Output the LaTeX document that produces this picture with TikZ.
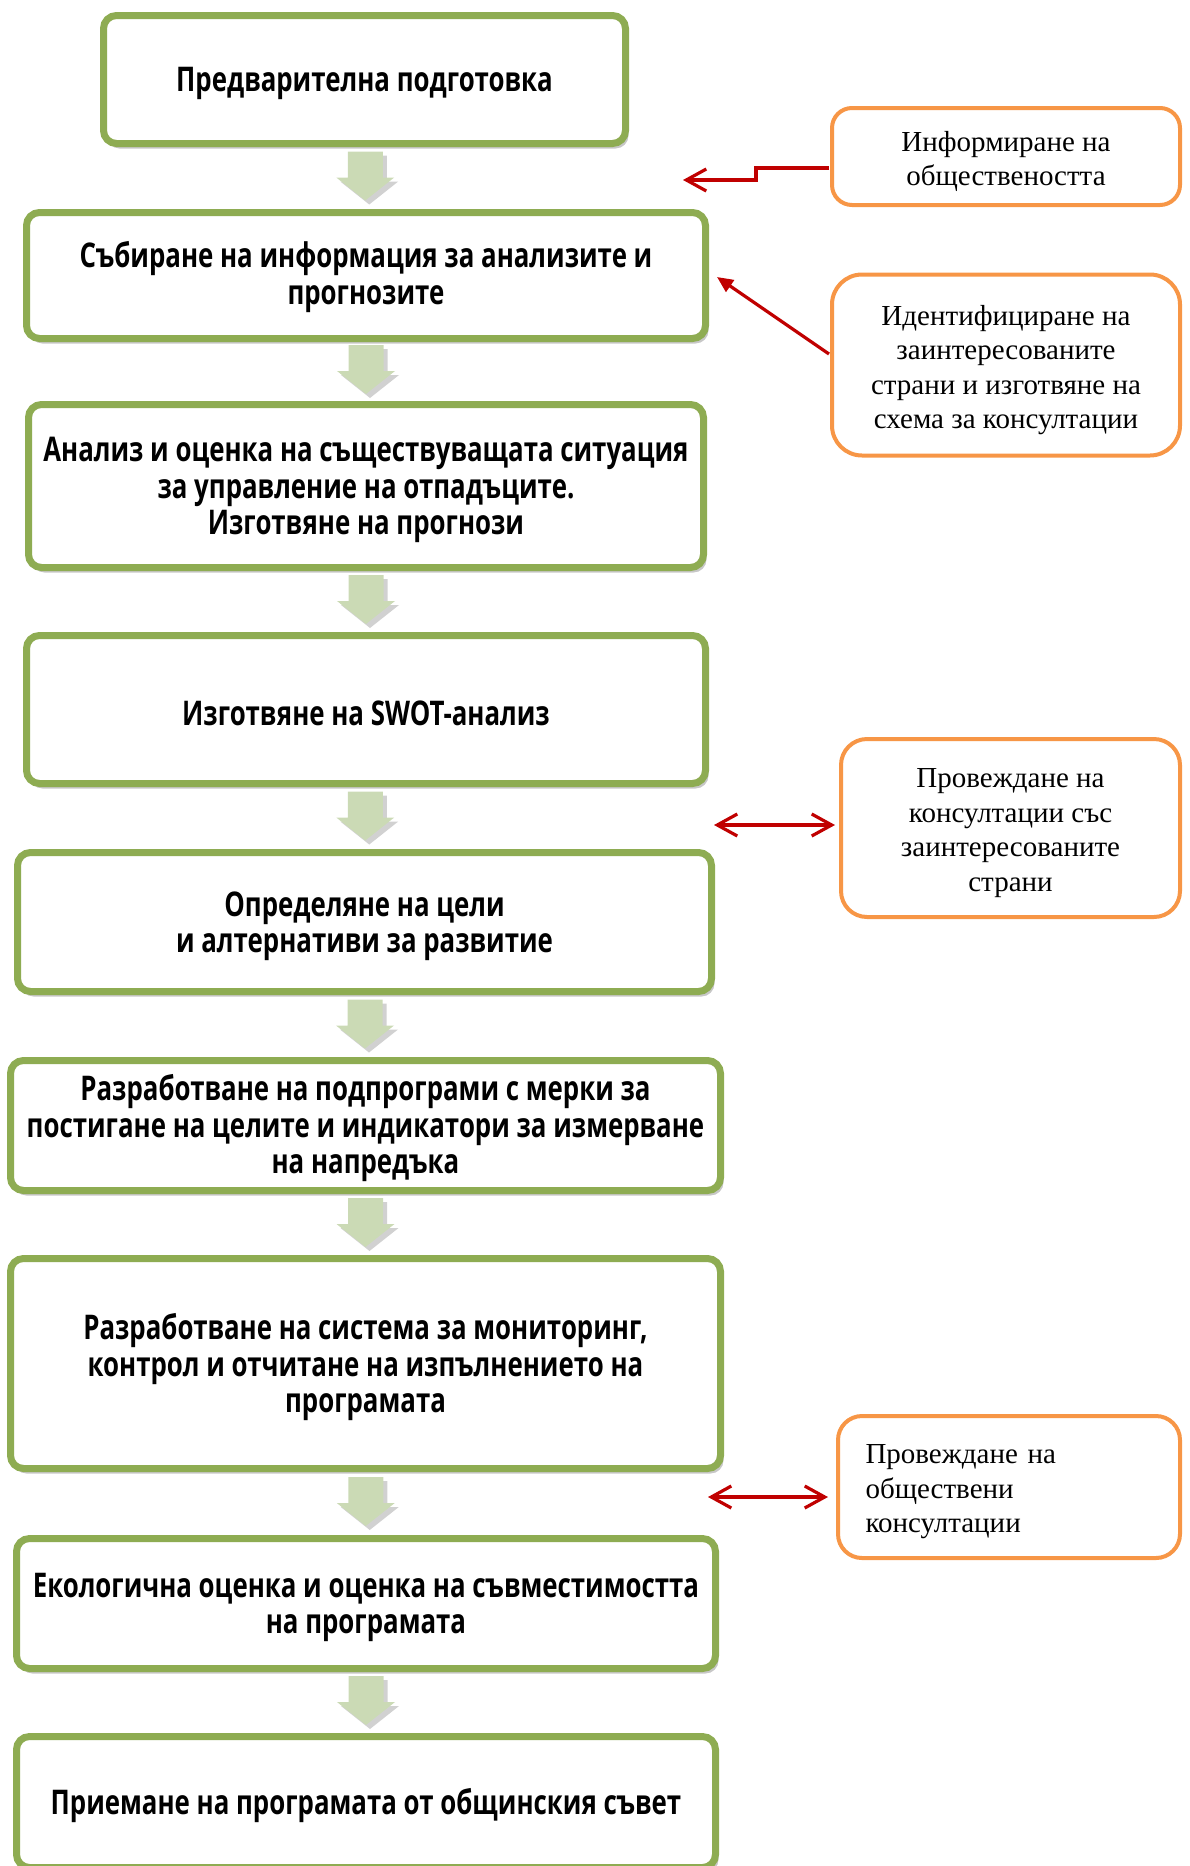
\documentclass[tikz,border=0pt]{standalone}
\usepackage{fontspec}
\newfontfamily\gfont[FakeStretch=0.76]{Open Sans}
\newfontfamily\ofont{Liberation Serif}
\usetikzlibrary{arrows.meta,shadows,calc}
\definecolor{gborder}{RGB}{142,172,82}
\definecolor{afill}{RGB}{203,218,181}
\definecolor{oborder}{RGB}{247,150,70}
\definecolor{rline}{RGB}{192,0,0}
\tikzset{
  gbox/.style={draw=gborder, line width=7pt, rounded corners=13pt, fill=white,
    inner sep=0pt,
    drop shadow={shadow xshift=3pt, shadow yshift=-5pt, fill=black, opacity=0.22}},
  gtext/.style={align=center, inner sep=0pt,
    font=\gfont\bfseries\fontsize{34}{36.5}\selectfont},
  obox/.style={draw=oborder, line width=4pt, rounded corners=24pt, fill=white,
    inner sep=0pt},
  otext/.style={align=center, inner sep=0pt,
    font=\ofont\fontsize{29}{34.5}\selectfont},
  redline/.style={draw=rline, line width=3.2pt},
  barbtip/.style={-{Straight Barb[length=20pt,width=22pt]}},
  barbboth/.style={{Straight Barb[length=20pt,width=22pt]}-{Straight Barb[length=20pt,width=22pt]}},
  tritip/.style={-{Triangle[length=16pt,width=14pt]}},
  downarrow/.pic={
    \fill[afill, drop shadow={shadow xshift=4pt, shadow yshift=-4pt, fill=black, opacity=0.18}]
      (-17.5,-24.5) -- (17.5,-24.5) -- (17.5,1.5) -- (29,1.5) -- (0,24.5)
      -- (-29,1.5) -- (-17.5,1.5) -- cycle;
  }
}
\begin{document}
\begin{tikzpicture}[x=1pt,y=-1pt]
\useasboundingbox (0,0) rectangle (1189,1866);
% green boxes
\node[gbox, minimum width=522, minimum height=128] (b1) at (364.5,79.5) {};
\node[gbox, minimum width=679, minimum height=126] (b2) at (366,275.5) {};
\node[gbox, minimum width=675, minimum height=163] (b3) at (366,486) {};
\node[gbox, minimum width=679, minimum height=148] (b4) at (366,709.5) {};
\node[gbox, minimum width=694, minimum height=139] (b5) at (364.5,922) {};
\node[gbox, minimum width=710, minimum height=130] (b6) at (365.5,1125.5) {};
\node[gbox, minimum width=710, minimum height=210] (b7) at (365.5,1363.5) {};
\node[gbox, minimum width=699, minimum height=130] (b8) at (366,1603.5) {};
\node[gbox, minimum width=699, minimum height=131] (b9) at (366,1802) {};
% texts in green boxes
\node[gtext] (t1) at ($(b1.center)+(0,4)$) {Предварителна подготовка};
\node[gtext] (t2) at ($(b2.center)+(0,1.5)$) {Събиране на информация за анализите и\\прогнозите};
\node[gtext] (t3) at ($(b3.center)+(0,4)$) {Анализ и оценка на съществуващата ситуация\\за управление на отпадъците.\\Изготвяне на прогнози};
\node[gtext] (t4) at ($(b4.center)+(0,4)$) {Изготвяне на SWOT-анализ};
\node[gtext] (t5) at ($(b5.center)+(0,4)$) {Определяне на цели\\и алтернативи за развитие};
\node[gtext] (t6) at ($(b6.center)+(0,3)$) {Разработване на подпрограми с мерки за\\постигане на целите и индикатори за измерване\\на напредъка};
\node[gtext] (t7) at ($(b7.center)+(0,4)$) {Разработване на система за мониторинг,\\контрол и отчитане на изпълнението на\\програмата};
\node[gtext] (t8) at ($(b8.center)+(0,4)$) {Екологична оценка и оценка на съвместимостта\\на програмата};
\node[gtext] (t9) at ($(b9.center)+(0,4)$) {Приемане на програмата от общинския съвет};
% block arrows
\foreach \a/\b in {b1/b2,b2/b3,b3/b4,b4/b5,b5/b6,b6/b7,b7/b8,b8/b9}
  \path ($(\a.south)!0.5!(\b.north)+(0,-2)$) pic {downarrow};
% orange boxes
\node[obox, minimum width=348, minimum height=97, rounded corners=20pt] (o1) at (1006,156.5) {};
\node[obox, minimum width=348, minimum height=181, rounded corners=30pt] (o2) at (1006,365) {};
\node[obox, minimum width=339, minimum height=178, rounded corners=26pt] (o3) at (1010.5,828) {};
\node[obox, minimum width=342, minimum height=142] (o4) at (1009,1487) {};
\node[otext] (p1) at ($(o1.center)+(0,5)$) {Информиране на\\обществеността};
\node[otext] (p2) at ($(o2.center)+(0,5)$) {Идентифициране на\\заинтересованите\\страни и изготвяне на\\схема за консултации};
\node[otext] (p3) at ($(o3.center)+(0,5)$) {Провеждане на\\консултации със\\заинтересованите\\страни};
\node[otext, align=left, text width=287] (p4) at ($(o4.center)+(0,5)$) {Провеждане на\\обществени\\консултации};
% red connectors
\coordinate (c1) at (683,180);
\coordinate (c3) at (714,825);
\coordinate (c4) at (708,1497);
\draw[redline, barbtip] ($(o1.west)+(-1,11.5)$) -| ($(c1)+(73,0)$) -- (c1);
\draw[redline, tritip] ($(o2.west)+(-1,-11)$) -- ($(b2.east)+(8,1.5)$);
\draw[redline, barbboth] (c3) -- ($(c3 -| o3.west)+(-4,0)$);
\draw[redline, barbboth] (c4) -- ($(c4 -| o4.west)+(-8,0)$);
\end{tikzpicture}
\end{document}
